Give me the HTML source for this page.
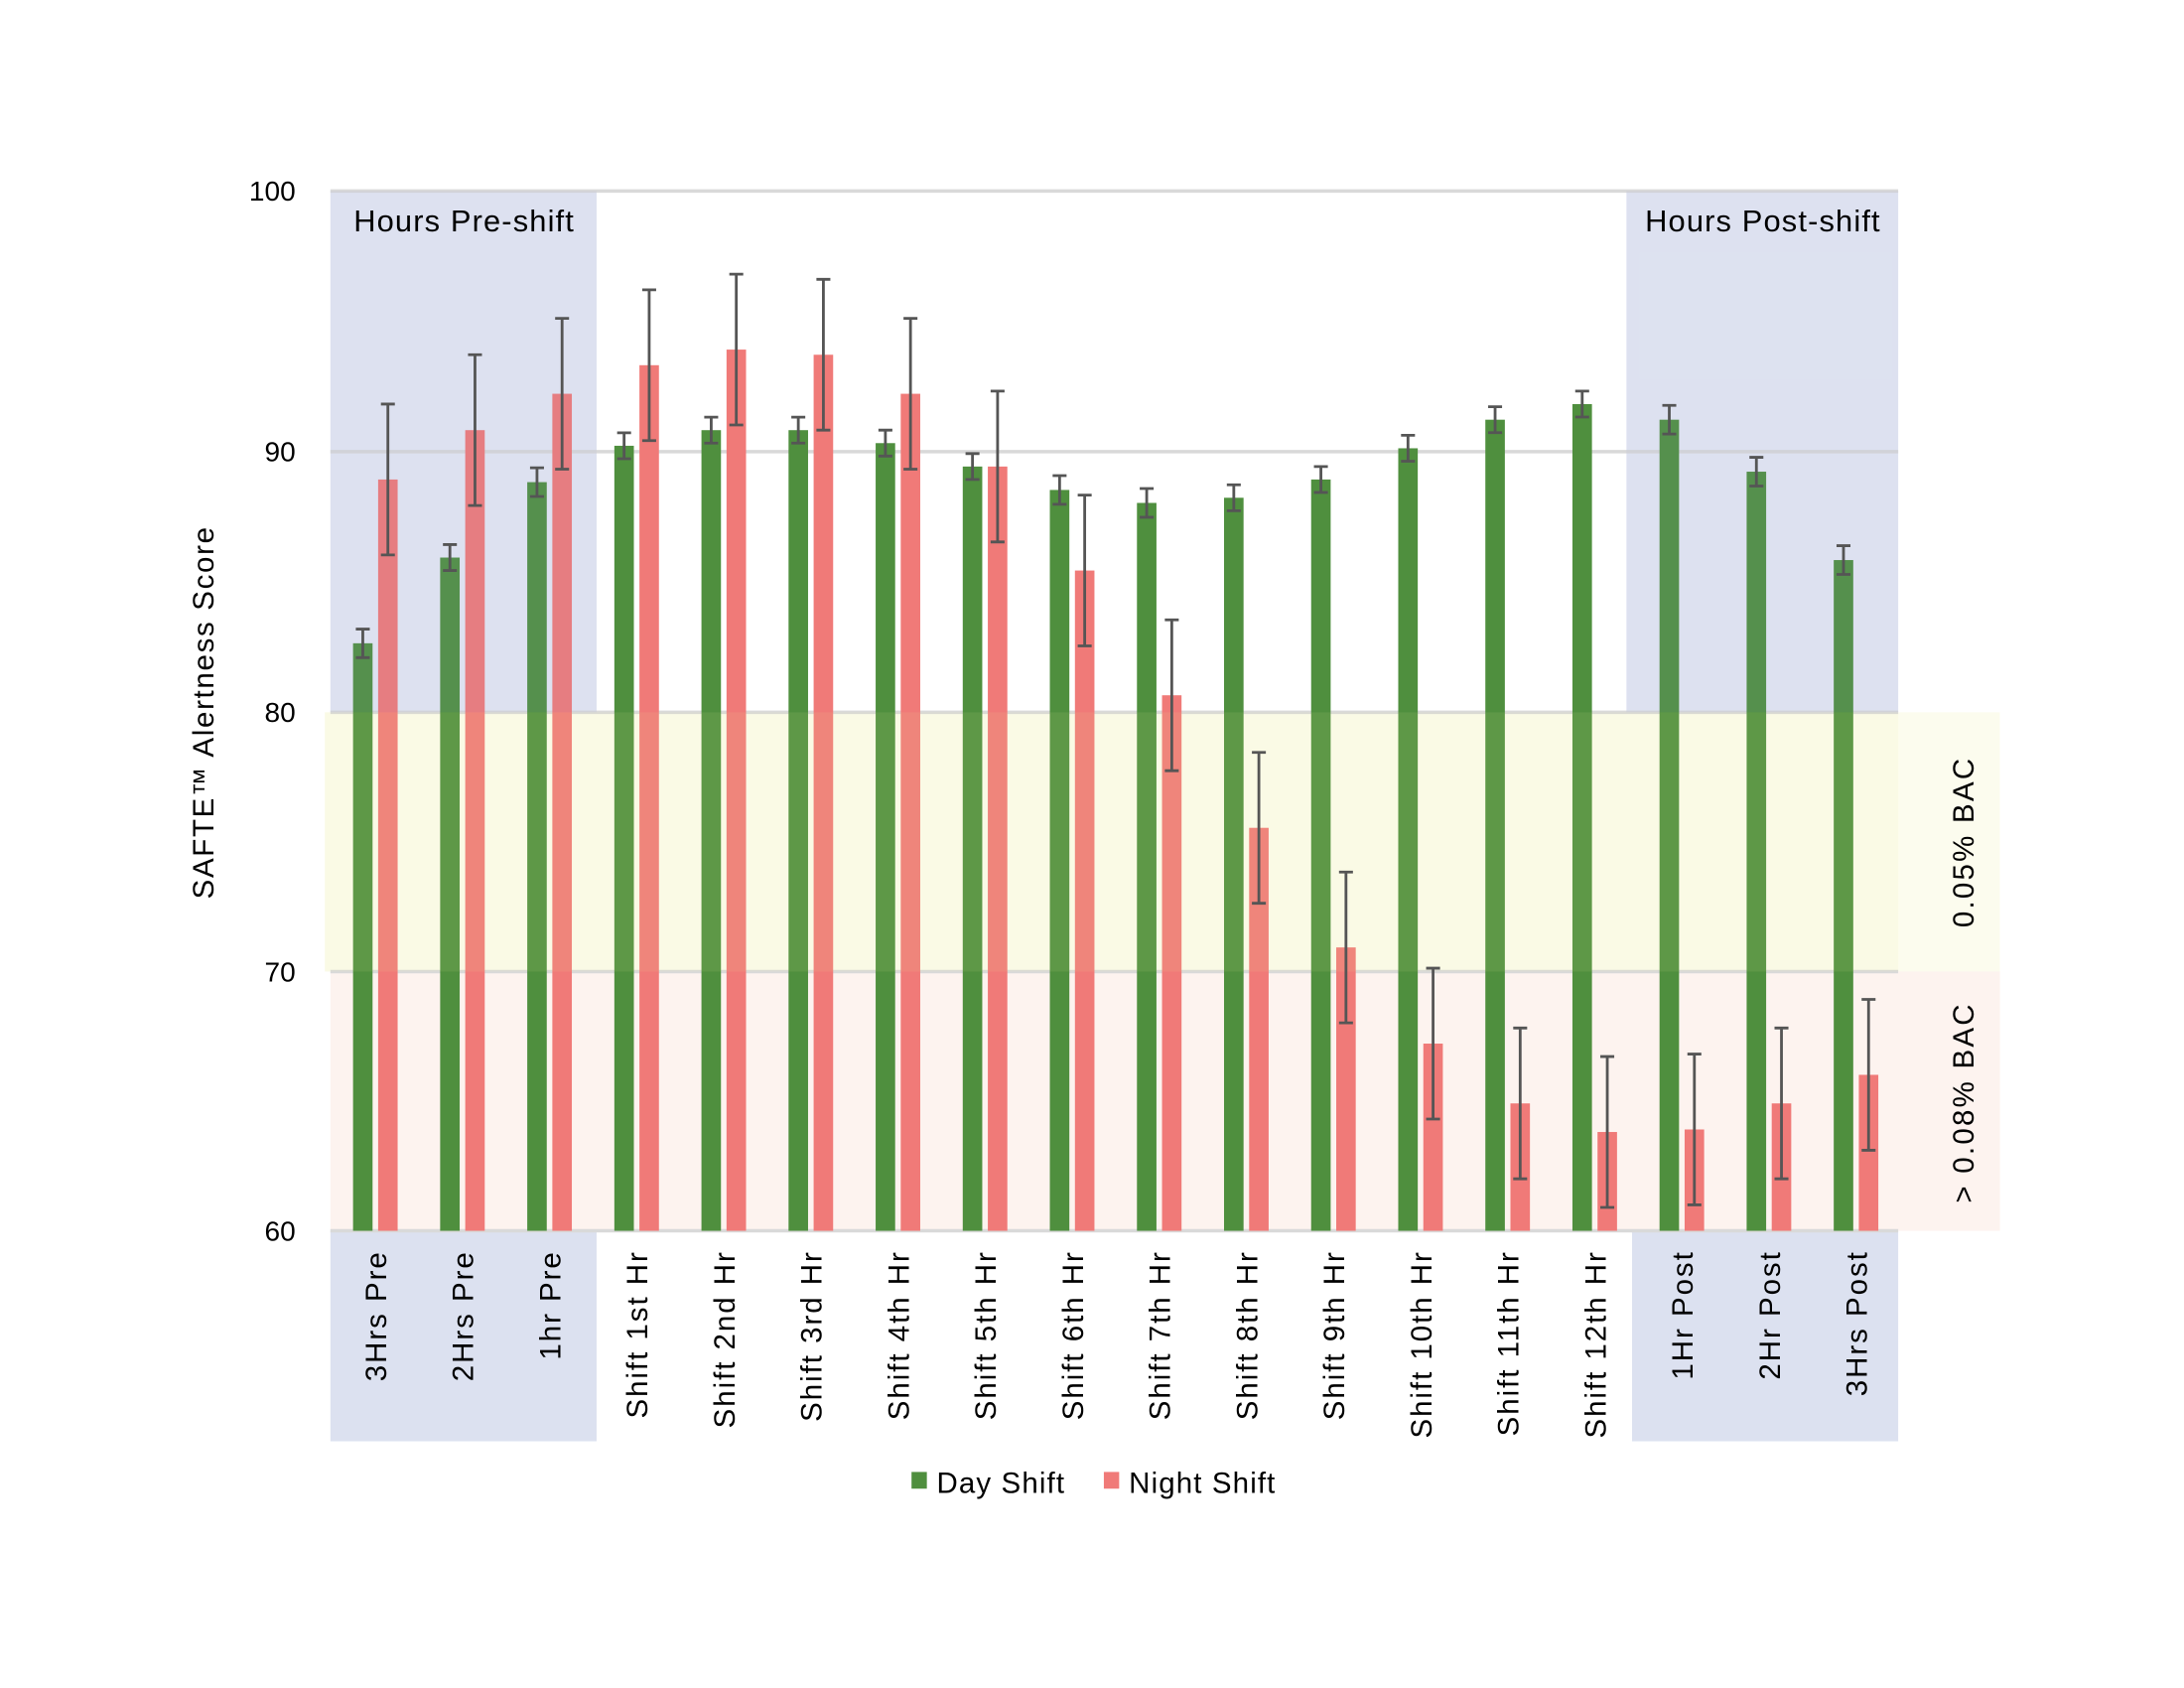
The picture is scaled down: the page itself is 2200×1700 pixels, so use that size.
<!DOCTYPE html>
<html><head><meta charset="utf-8"><style>html,body{margin:0;padding:0;background:#fff}svg{display:block}</style></head><body>
<svg width="2200" height="1700" viewBox="0 0 1567 1211" xmlns="http://www.w3.org/2000/svg" font-family="Liberation Sans, Arial, sans-serif">
<rect width="1567" height="1211" fill="#fff"/>
<rect x="237" y="137" width="191" height="374" fill="#e6e9f3"/>
<rect x="1167" y="137" width="195" height="374" fill="#e6e9f3"/>
<rect x="237" y="883" width="191" height="151" fill="#dce1f0"/>
<rect x="1171" y="883" width="191" height="151" fill="#dce1f0"/>
<rect x="233" y="511" width="1202" height="186" fill="#fcfcee"/>
<rect x="237" y="697" width="1198" height="186" fill="#fdf3ef"/>
<g stroke="#d9d9d9" stroke-width="2.5">
<line x1="237" x2="1362" y1="137" y2="137"/><line x1="237" x2="1362" y1="324" y2="324"/>
<line x1="237" x2="1362" y1="511" y2="511"/><line x1="237" x2="1362" y1="697" y2="697"/>
<line x1="237" x2="1362" y1="883" y2="883"/></g>

<g fill="#4f8f3e">
<rect x="253.25" y="461.5" width="14" height="421.5"/>
<rect x="315.75" y="400" width="14" height="483"/>
<rect x="378.25" y="345.9" width="14" height="537.1"/>
<rect x="440.75" y="319.8" width="14" height="563.2"/>
<rect x="503.25" y="308.6" width="14" height="574.4"/>
<rect x="565.75" y="308.6" width="14" height="574.4"/>
<rect x="628.25" y="317.9" width="14" height="565.1"/>
<rect x="690.75" y="334.7" width="14" height="548.3"/>
<rect x="753.25" y="351.5" width="14" height="531.5"/>
<rect x="815.75" y="360.8" width="14" height="522.2"/>
<rect x="878.25" y="357.1" width="14" height="525.9"/>
<rect x="940.75" y="344" width="14" height="539"/>
<rect x="1003.25" y="321.6" width="14" height="561.4"/>
<rect x="1065.75" y="301.1" width="14" height="581.9"/>
<rect x="1128.25" y="289.9" width="14" height="593.1"/>
<rect x="1190.75" y="301.1" width="14" height="581.9"/>
<rect x="1253.25" y="338.4" width="14" height="544.6"/>
<rect x="1315.75" y="401.8" width="14" height="481.2"/>
</g>
<g fill="#f07a78">
<rect x="271.25" y="344" width="14" height="539"/>
<rect x="333.75" y="308.6" width="14" height="574.4"/>
<rect x="396.25" y="282.5" width="14" height="600.5"/>
<rect x="458.75" y="262" width="14" height="621"/>
<rect x="521.25" y="250.8" width="14" height="632.2"/>
<rect x="583.75" y="254.5" width="14" height="628.5"/>
<rect x="646.25" y="282.5" width="14" height="600.5"/>
<rect x="708.75" y="334.7" width="14" height="548.3"/>
<rect x="771.25" y="409.3" width="14" height="473.7"/>
<rect x="833.75" y="498.8" width="14" height="384.2"/>
<rect x="896.25" y="593.9" width="14" height="289.1"/>
<rect x="958.75" y="679.7" width="14" height="203.3"/>
<rect x="1021.25" y="748.7" width="14" height="134.3"/>
<rect x="1083.75" y="791.6" width="14" height="91.4"/>
<rect x="1146.25" y="812.1" width="14" height="70.9"/>
<rect x="1208.75" y="810.3" width="14" height="72.7"/>
<rect x="1271.25" y="791.6" width="14" height="91.4"/>
<rect x="1333.75" y="771.1" width="14" height="111.9"/>
</g>
<rect x="237" y="137" width="191" height="374" fill="#8f9fd8" fill-opacity="0.1"/>
<rect x="1167" y="137" width="195" height="374" fill="#8f9fd8" fill-opacity="0.1"/>
<rect x="233" y="511" width="1129" height="186" fill="#f0f0a0" fill-opacity="0.1"/>

<g stroke="#555" stroke-width="2" fill="none">
<path d="M260.25 451.3V471.8M255.25 451.3h10M255.25 471.8h10 M278.25 289.9V398.1M273.25 289.9h10M273.25 398.1h10"/>
<path d="M322.75 390.7V409.3M317.75 390.7h10M317.75 409.3h10 M340.75 254.5V362.7M335.75 254.5h10M335.75 362.7h10"/>
<path d="M385.25 335.6V356.2M380.25 335.6h10M380.25 356.2h10 M403.25 228.4V336.6M398.25 228.4h10M398.25 336.6h10"/>
<path d="M447.75 310.5V329.1M442.75 310.5h10M442.75 329.1h10 M465.75 207.9V316.1M460.75 207.9h10M460.75 316.1h10"/>
<path d="M510.25 299.3V317.9M505.25 299.3h10M505.25 317.9h10 M528.25 196.7V304.9M523.25 196.7h10M523.25 304.9h10"/>
<path d="M572.75 299.3V317.9M567.75 299.3h10M567.75 317.9h10 M590.75 200.4V308.6M585.75 200.4h10M585.75 308.6h10"/>
<path d="M635.25 308.6V327.2M630.25 308.6h10M630.25 327.2h10 M653.25 228.4V336.6M648.25 228.4h10M648.25 336.6h10"/>
<path d="M697.75 325.4V344M692.75 325.4h10M692.75 344h10 M715.75 280.6V388.8M710.75 280.6h10M710.75 388.8h10"/>
<path d="M760.25 341.2V361.8M755.25 341.2h10M755.25 361.8h10 M778.25 355.2V463.4M773.25 355.2h10M773.25 463.4h10"/>
<path d="M822.75 350.5V371.1M817.75 350.5h10M817.75 371.1h10 M840.75 444.7V552.9M835.75 444.7h10M835.75 552.9h10"/>
<path d="M885.25 347.8V366.4M880.25 347.8h10M880.25 366.4h10 M903.25 539.8V648M898.25 539.8h10M898.25 648h10"/>
<path d="M947.75 334.7V353.3M942.75 334.7h10M942.75 353.3h10 M965.75 625.6V733.8M960.75 625.6h10M960.75 733.8h10"/>
<path d="M1010.25 312.3V330.9M1005.25 312.3h10M1005.25 330.9h10 M1028.25 694.6V802.8M1023.25 694.6h10M1023.25 802.8h10"/>
<path d="M1072.75 291.8V310.4M1067.75 291.8h10M1067.75 310.4h10 M1090.75 737.5V845.7M1085.75 737.5h10M1085.75 845.7h10"/>
<path d="M1135.25 280.6V299.2M1130.25 280.6h10M1130.25 299.2h10 M1153.25 758V866.2M1148.25 758h10M1148.25 866.2h10"/>
<path d="M1197.75 290.8V311.4M1192.75 290.8h10M1192.75 311.4h10 M1215.75 756.2V864.4M1210.75 756.2h10M1210.75 864.4h10"/>
<path d="M1260.25 328.1V348.7M1255.25 328.1h10M1255.25 348.7h10 M1278.25 737.5V845.7M1273.25 737.5h10M1273.25 845.7h10"/>
<path d="M1322.75 391.5V412.1M1317.75 391.5h10M1317.75 412.1h10 M1340.75 717V825.2M1335.75 717h10M1335.75 825.2h10"/>
</g>

<g font-size="20" text-anchor="end" fill="#000">
<text x="212" y="144">100</text><text x="212" y="331">90</text><text x="212" y="518">80</text><text x="212" y="704">70</text><text x="212" y="890">60</text></g>
<text transform="translate(153,511) rotate(-90)" text-anchor="middle" font-size="21" letter-spacing="1.2">SAFTE™ Alertness Score</text>
<text x="333" y="166" text-anchor="middle" font-size="22" letter-spacing="0.8">Hours Pre-shift</text>
<text x="1265" y="166" text-anchor="middle" font-size="22" letter-spacing="0.8">Hours Post-shift</text>
<text transform="translate(1416,604) rotate(-90)" text-anchor="middle" font-size="21" letter-spacing="1.6">0.05% BAC</text>
<text transform="translate(1416,791) rotate(-90)" text-anchor="middle" font-size="21" letter-spacing="1.6">&gt; 0.08% BAC</text>

<g font-size="21" text-anchor="end" xml:space="preserve" letter-spacing="1.4">
<text transform="translate(277,897) rotate(-90)">3Hrs  Pre</text>
<text transform="translate(339.5,897) rotate(-90)">2Hrs  Pre</text>
<text transform="translate(402,897) rotate(-90)">1hr  Pre</text>
<text transform="translate(464.5,897) rotate(-90)">Shift 1st Hr</text>
<text transform="translate(527,897) rotate(-90)">Shift 2nd Hr</text>
<text transform="translate(589.5,897) rotate(-90)">Shift 3rd Hr</text>
<text transform="translate(652,897) rotate(-90)">Shift 4th Hr</text>
<text transform="translate(714.5,897) rotate(-90)">Shift 5th Hr</text>
<text transform="translate(777,897) rotate(-90)">Shift 6th Hr</text>
<text transform="translate(839.5,897) rotate(-90)">Shift 7th Hr</text>
<text transform="translate(902,897) rotate(-90)">Shift 8th Hr</text>
<text transform="translate(964.5,897) rotate(-90)">Shift 9th Hr</text>
<text transform="translate(1027,897) rotate(-90)">Shift 10th Hr</text>
<text transform="translate(1089.5,897) rotate(-90)">Shift 11th Hr</text>
<text transform="translate(1152,897) rotate(-90)">Shift 12th Hr</text>
<text transform="translate(1214.5,897) rotate(-90)">1Hr Post</text>
<text transform="translate(1277,897) rotate(-90)">2Hr Post</text>
<text transform="translate(1339.5,897) rotate(-90)">3Hrs Post</text>
</g>
<rect x="654" y="1056" width="11" height="12" fill="#4f8f3e"/><text x="672" y="1071" font-size="21" letter-spacing="0.8">Day Shift</text>
<rect x="792" y="1056" width="11" height="12" fill="#f07a78"/><text x="810" y="1071" font-size="21" letter-spacing="0.8">Night Shift</text>
</svg>
</body></html>
